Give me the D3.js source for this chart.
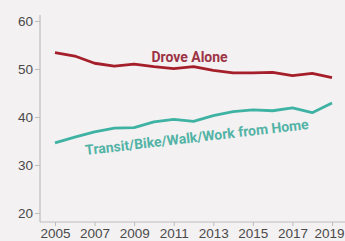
<!DOCTYPE html>
<html><head><meta charset="utf-8">
<script src="https://cdn.jsdelivr.net/npm/d3@7"></script>
<style>
html,body{margin:0;padding:0;background:#f4f1f2;}
svg{display:block;font-family:"Liberation Sans",Arial,sans-serif;}
</style></head>
<body><svg id="c" width="345" height="241"></svg>
<script>
const years = [2005,2006,2007,2008,2009,2010,2011,2012,2013,2014,2015,2016,2017,2018,2019];
const droveAlone = [53.4,52.7,51.2,50.6,51.0,50.5,50.1,50.5,49.7,49.2,49.2,49.3,48.6,49.1,48.2];
const transitEtc = [34.6,35.8,36.9,37.7,37.8,39.0,39.5,39.1,40.3,41.1,41.5,41.3,41.9,40.9,42.9];
const xTicks = [2005,2007,2009,2011,2013,2015,2017,2019];
const yTicks = [20,30,40,50,60];
const seriesNames = ["Drove Alone","Transit/Bike/Walk/Work from Home"];

const svg = d3.select("#c");
const x = d3.scaleLinear().domain([2005,2019]).range([55,332]);
const y = d3.scaleLinear().domain([20,60]).range([213,21]);
const axisColor = "#bdbdbd", tickText = "#4a4a4a";

svg.append("line").attr("x1",40).attr("x2",40).attr("y1",y(61.25)).attr("y2",222)
  .attr("stroke",axisColor).attr("stroke-width",1.2);
svg.append("line").attr("x1",40).attr("x2",345).attr("y1",222).attr("y2",222)
  .attr("stroke",axisColor).attr("stroke-width",1.2);

const gy = svg.append("g").attr("transform","translate(40,0)")
  .call(d3.axisLeft(y).tickValues(yTicks).tickSize(5).tickPadding(2));
const gx = svg.append("g").attr("transform","translate(0,222)")
  .call(d3.axisBottom(x).tickValues(xTicks).tickFormat(d3.format("d")).tickSize(4).tickPadding(2));
[gx,gy].forEach(g=>{
  g.select(".domain").remove();
  g.selectAll(".tick line").attr("stroke",axisColor);
  g.selectAll(".tick text").attr("fill",tickText).style("font-size","13.5px")
   .style("font-family","'Liberation Sans',Arial,sans-serif");
});
gx.selectAll(".tick text").filter(d=>d===2019).attr("dx",-3);

const line = d3.line().x((d,i)=>x(years[i])).y(d=>y(d)).curve(d3.curveLinear);
svg.append("path").datum(droveAlone).attr("d",line).attr("fill","none")
  .attr("stroke","#a51f2a").attr("stroke-width",2.8).attr("stroke-linejoin","round");
svg.append("path").datum(transitEtc).attr("d",line).attr("fill","none")
  .attr("stroke","#3fb3a3").attr("stroke-width",2.8).attr("stroke-linejoin","round");

svg.append("text").attr("x",x(2011.8)).attr("y",y(51.5)).attr("text-anchor","middle")
  .attr("fill","#9c3446").style("font-size","14px").style("font-weight","bold")
  .style("font-family","Roboto,'Liberation Sans',sans-serif")
  .text(seriesNames[0]);
svg.append("text").attr("text-anchor","middle")
  .attr("transform",`translate(${x(2012.2)},${y(34.8)}) rotate(-6.7)`)
  .attr("fill","#52b3a6").style("font-size","14px").style("font-weight","bold")
  .style("font-family","Roboto,'Liberation Sans',sans-serif")
  .text(seriesNames[1]);
</script></body></html>
